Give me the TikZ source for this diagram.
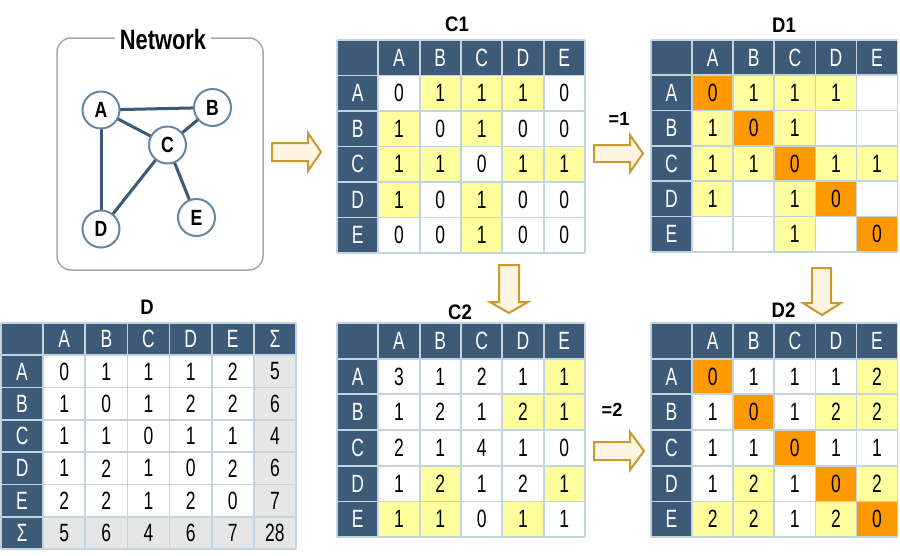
\documentclass[tikz,border=0pt]{standalone}
\usepackage{fontspec}
\setmainfont{Liberation Sans}
\newfontfamily\cellfont[FakeStretch=0.70]{Liberation Sans}
\newfontfamily\titlefont[FakeStretch=0.88]{Liberation Sans}
\newfontfamily\nettitlefont[FakeStretch=0.78]{Liberation Sans}
\newfontfamily\vtxfont[FakeStretch=0.80]{Liberation Sans}
\newfontfamily\eqfont[FakeStretch=0.95]{Liberation Sans}
\definecolor{hdr}{HTML}{3D5A78}
\definecolor{gridc}{HTML}{C3D4DF}
\definecolor{cW}{HTML}{FFFFFF}
\definecolor{cY}{HTML}{FFFF9E}
\definecolor{cO}{HTML}{FF9900}
\definecolor{cG}{HTML}{E6E6E6}
\definecolor{edgec}{HTML}{3B5A76}
\definecolor{circc}{HTML}{6487A3}
\definecolor{arrf}{HTML}{FDF5E2}
\definecolor{arrd}{HTML}{C99A2E}
\definecolor{boxc}{HTML}{A8A8A8}
\pgfdeclarelayer{background}
\pgfsetlayers{background,main}
\tikzset{
  hdrcell/.style={fill=hdr, text=white, inner sep=0pt, outer sep=0pt, font=\cellfont\fontsize{25}{27}\selectfont},
  cell/.style={inner sep=0pt, outer sep=0pt, text=black, font=\cellfont\fontsize{25}{27}\selectfont},
  gridl/.style={draw=gridc, line width=1.7pt},
  ttl/.style={font=\titlefont\bfseries\fontsize{21}{23}\selectfont, inner sep=0pt},
  eqlbl/.style={font=\eqfont\bfseries\fontsize{19}{21}\selectfont, inner sep=0pt},
  vtx/.style={circle, draw=circc, line width=2pt, fill=white, minimum size=37pt, inner sep=0pt, font=\vtxfont\bfseries\fontsize{22}{24}\selectfont},
  edg/.style={draw=edgec, line width=3pt},
  blockarrow/.style={fill=arrf, draw=arrd, line width=2pt, line join=miter},
}
\newcommand{\drawmat}[8]{%
  \foreach \h [count=\k] in {#7} {
    \node[hdrcell, minimum width=#4pt, minimum height=#5pt] (#1-h\k) at ({#2+(\k+0.5)*#4},{#3+0.5*#5}) {\h};
    \node[hdrcell, minimum width=#4pt, minimum height=#5pt] (#1-r\k) at ({#2+0.5*#4},{#3+(\k+0.5)*#5}) {\h};
  }
  \fill[hdr] (#2,#3) rectangle ++(#4,#5);
  \foreach \row [count=\r] in {#8} {
    \foreach \v/\c [count=\k] in \row {
      \node[cell, fill=c\c, minimum width=#4pt, minimum height=#5pt] (#1-\r-\k) at ({#2+(\k+0.5)*#4},{#3+(\r+0.5)*#5}) {\v};
    }
  }
  \foreach \i in {0,...,#6} {
    \draw[gridl] ({#2+\i*#4},#3) -- ({#2+\i*#4},{#3+#6*#5});
    \draw[gridl] (#2,{#3+\i*#5}) -- ({#2+#6*#4},{#3+\i*#5});
  }
}
\begin{document}
\begin{tikzpicture}[x=1pt,y=-1pt]
\useasboundingbox (0,0) rectangle (900,555);
\begin{pgfonlayer}{background}
\fill[white] (0,0) rectangle (900,555);
\end{pgfonlayer}

% Network box
\draw[boxc, line width=1.5pt, rounded corners=14pt] (57,38) rectangle (263,270);
\node[font=\nettitlefont\bfseries\fontsize{28}{30}\selectfont, fill=white, inner xsep=5pt, inner ysep=0pt] (nettitle) at (163,39) {Network};
\node[vtx] (A) at (101,110) {A};
\node[vtx] (B) at (212.5,107.5) {B};
\node[vtx] (C) at (167.5,145) {C};
\node[vtx] (D) at (101,229) {D};
\node[vtx] (E) at (196.5,217.5) {E};
\begin{pgfonlayer}{background}
\path[edg] (A.center) -- (B.center);
\path[edg] (A.center) -- (C.center);
\path[edg] (A.center) -- (D.center);
\path[edg] (C.center) -- (B.center);
\path[edg] (C.center) -- (D.center);
\path[edg] (C.center) -- (E.center);
\end{pgfonlayer}

% C1
\node[ttl] (tC1) at (457,24.5) {C1};
\drawmat{C1}{337}{40}{41.33}{35.5}{6}{A,B,C,D,E}{
  {0/W,1/Y,1/Y,1/Y,0/W},
  {1/Y,0/W,1/Y,0/W,0/W},
  {1/Y,1/Y,0/W,1/Y,1/Y},
  {1/Y,0/W,1/Y,0/W,0/W},
  {0/W,0/W,1/Y,0/W,0/W}}

% D1
\node[ttl] (tD1) at (784,25) {D1};
\drawmat{D1}{651}{40}{41.1}{35.3}{6}{A,B,C,D,E}{
  {0/O,1/Y,1/Y,1/Y,{}/W},
  {1/Y,0/O,1/Y,{}/W,{}/W},
  {1/Y,1/Y,0/O,1/Y,1/Y},
  {1/Y,{}/W,1/Y,0/O,{}/W},
  {{}/W,{}/W,1/Y,{}/W,0/O}}

% D
\node[ttl] (tD) at (147,307.5) {D};
\drawmat{DD}{1}{323}{42.14}{32.3}{7}{A,B,C,D,E,Σ}{
  {0/W,1/W,1/W,1/W,2/W,5/G},
  {1/W,0/W,1/W,2/W,2/W,6/G},
  {1/W,1/W,0/W,1/W,1/W,4/G},
  {1/W,2/W,1/W,0/W,2/W,6/G},
  {2/W,2/W,1/W,2/W,0/W,7/G},
  {5/G,6/G,4/G,6/G,7/G,28/G}}

% C2
\node[ttl] (tC2) at (460,312.5) {C2};
\drawmat{C2}{337}{323}{41.33}{35.67}{6}{A,B,C,D,E}{
  {3/W,1/W,2/W,1/W,1/Y},
  {1/W,2/W,1/W,2/Y,1/Y},
  {2/W,1/W,4/W,1/W,0/W},
  {1/W,2/Y,1/W,2/W,1/Y},
  {1/Y,1/Y,0/W,1/Y,1/W}}

% D2
\node[ttl] (tD2) at (783.5,310.5) {D2};
\drawmat{D2}{651}{323}{41.1}{35.67}{6}{A,B,C,D,E}{
  {0/O,1/W,1/W,1/W,2/Y},
  {1/W,0/O,1/W,2/Y,2/Y},
  {1/W,1/W,0/O,1/W,1/W},
  {1/W,2/Y,1/W,0/O,2/Y},
  {2/Y,2/Y,1/W,2/Y,0/O}}

% labels
\node[eqlbl] (eq1) at (619,118.5) {=1};
\node[eqlbl] (eq2) at (612,410) {=2};

% block arrows
\draw[blockarrow] (272,143) -- (308,143) -- (308,133) -- (321,152) -- (308,171) -- (308,161) -- (272,161) -- cycle;
\draw[blockarrow] (594,145) -- (630,145) -- (630,135) -- (643,153.5) -- (630,172) -- (630,162) -- (594,162) -- cycle;
\draw[blockarrow] (594,442) -- (630,442) -- (630,432) -- (644,451) -- (630,470) -- (630,460) -- (594,460) -- cycle;
\draw[blockarrow] (499,265) -- (519,265) -- (519,302) -- (528,302) -- (509,313) -- (490,302) -- (499,302) -- cycle;
\draw[blockarrow] (812,268) -- (831,268) -- (831,303) -- (841,303) -- (822,315) -- (803,303) -- (812,303) -- cycle;
\end{tikzpicture}
\end{document}
